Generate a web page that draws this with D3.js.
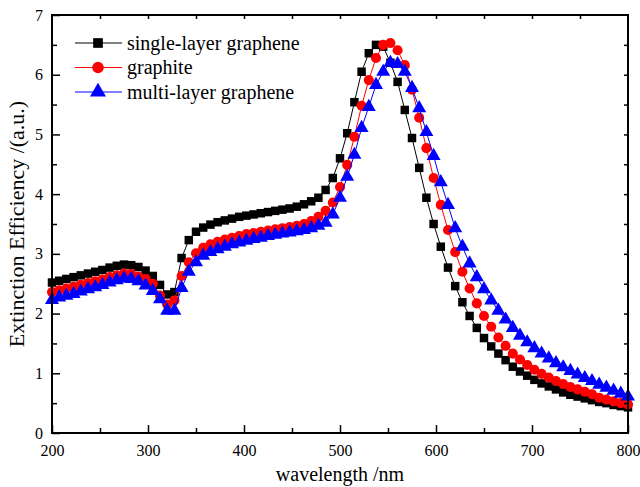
<!DOCTYPE html>
<html>
<head>
<meta charset="utf-8">
<script src="https://cdn.jsdelivr.net/npm/d3@7"></script>
<style>
	body { margin: 0; background: #fff; }
	svg { display: block; font-family: "Liberation Serif", "DejaVu Serif", serif; }
</style>
</head>
<body>
<div id="chart"></div>
<script>
'use strict';

//wavelength grid (nm), one point every 7.5 nm
var wavelengths = d3.range(81).map(function(i) { return 200 + i * 7.5; });

//single-layer graphene
var singleLayer = [
	2.52, 2.55, 2.58, 2.61, 2.64, 2.67, 2.70, 2.73, 2.77, 2.80,
	2.82, 2.81, 2.78, 2.72, 2.63, 2.48, 2.32, 2.36, 2.93, 3.23,
	3.37, 3.44, 3.49, 3.53, 3.56, 3.59, 3.62, 3.64, 3.66, 3.68,
	3.70, 3.72, 3.74, 3.76, 3.79, 3.83, 3.88, 3.94, 4.07, 4.27,
	4.60, 5.02, 5.54, 6.05, 6.36, 6.50, 6.47, 6.20, 5.88, 5.41,
	4.94, 4.44, 3.94, 3.50, 3.12, 2.77, 2.46, 2.19, 1.96, 1.76,
	1.59, 1.45, 1.33, 1.22, 1.11, 1.03, 0.96, 0.89, 0.83, 0.78,
	0.73, 0.68, 0.64, 0.61, 0.58, 0.55, 0.52, 0.50, 0.47, 0.45,
	0.43
];

//graphite
var graphite = [
	2.36, 2.39, 2.42, 2.45, 2.48, 2.51, 2.54, 2.57, 2.61, 2.64,
	2.67, 2.66, 2.62, 2.58, 2.50, 2.30, 2.15, 2.22, 2.63, 2.86,
	3.01, 3.10, 3.16, 3.20, 3.24, 3.27, 3.30, 3.33, 3.35, 3.37,
	3.39, 3.41, 3.43, 3.45, 3.47, 3.50, 3.55, 3.62, 3.72, 3.86,
	4.12, 4.49, 4.96, 5.48, 5.91, 6.28, 6.50, 6.53, 6.41, 6.16,
	5.75, 5.28, 4.77, 4.27, 3.82, 3.40, 3.03, 2.70, 2.42, 2.17,
	1.96, 1.78, 1.60, 1.46, 1.33, 1.23, 1.14, 1.06, 0.99, 0.93,
	0.87, 0.82, 0.77, 0.73, 0.69, 0.65, 0.59, 0.56, 0.53, 0.50,
	0.48
];

//multi-layer graphene
var multiLayer = [
	2.23, 2.27, 2.30, 2.33, 2.37, 2.41, 2.44, 2.48, 2.52, 2.56,
	2.59, 2.58, 2.54, 2.47, 2.38, 2.24, 2.05, 2.05, 2.43, 2.70,
	2.86, 2.97, 3.03, 3.08, 3.12, 3.16, 3.19, 3.22, 3.25, 3.27,
	3.30, 3.32, 3.34, 3.36, 3.38, 3.40, 3.43, 3.47, 3.52, 3.66,
	3.94, 4.29, 4.66, 5.11, 5.46, 5.83, 6.05, 6.20, 6.18, 6.05,
	5.78, 5.44, 5.04, 4.64, 4.20, 3.82, 3.43, 3.12, 2.84, 2.61,
	2.41, 2.22, 2.05, 1.90, 1.76, 1.63, 1.52, 1.42, 1.33, 1.25,
	1.17, 1.10, 1.04, 0.98, 0.92, 0.87, 0.81, 0.76, 0.71, 0.66,
	0.61
];

var seriesNames = ['single-layer graphene', 'graphite', 'multi-layer graphene'];
var seriesColors = ['#000000', '#ff0000', '#0000ff'];
var seriesShapes = [d3.symbolSquare, d3.symbolCircle, d3.symbolTriangle];
var seriesSizes = [72, 80, 85];

var xTicks = [200, 300, 400, 500, 600, 700, 800];
var yTicks = [0, 1, 2, 3, 4, 5, 6, 7];

(function() {
	var width = 640, height = 487;
	var margin = {top: 15, right: 12, bottom: 54, left: 52};
	var iw = width - margin.left - margin.right;
	var ih = height - margin.top - margin.bottom;

	var svg = d3.select('#chart').append('svg')
		.attr('width', width)
		.attr('height', height);

	var x = d3.scaleLinear().domain([200, 800]).range([0, iw]);
	var y = d3.scaleLinear().domain([0, 7]).range([ih, 0]);

	var g = svg.append('g')
		.attr('transform', 'translate(' + margin.left + ',' + margin.top + ')');

	/***************************************
	 * DATA
	 ***************************************/
	var allSeries = [singleLayer, graphite, multiLayer];
	var line = d3.line()
		.x(function(d, i) { return x(wavelengths[i]); })
		.y(function(d) { return y(d); });

	allSeries.forEach(function(values, s) {
		var sg = g.append('g').classed('series', true);
		sg.append('path')
			.attr('d', line(values))
			.attr('fill', 'none')
			.attr('stroke', seriesColors[s])
			.attr('stroke-width', 1);
		var sym = d3.symbol().type(seriesShapes[s]).size(seriesSizes[s]);
		sg.selectAll('path.marker')
			.data(values)
			.enter().append('path')
				.classed('marker', true)
				.attr('d', sym)
				.attr('fill', seriesColors[s])
				.attr('transform', function(d, i) {
					return 'translate(' + x(wavelengths[i]) + ',' + y(d) + ')';
				});
	});

	/***************************************
	 * AXES
	 ***************************************/
	//bottom: major ticks inward with labels, minor ticks inward
	g.append('g')
		.attr('transform', 'translate(0,' + ih + ')')
		.call(d3.axisBottom(x).tickValues(xTicks).tickSize(-8).tickPadding(12)
			.tickFormat(d3.format('d')));
	g.append('g')
		.attr('transform', 'translate(0,' + ih + ')')
		.call(d3.axisBottom(x).tickValues(d3.range(250, 800, 100)).tickSize(-5).tickFormat(''));
	//left
	g.append('g')
		.call(d3.axisLeft(y).tickValues(yTicks).tickSize(-8).tickPadding(9)
			.tickFormat(d3.format('d')));
	g.append('g')
		.call(d3.axisLeft(y).tickValues(d3.range(0.5, 7, 1)).tickSize(-5).tickFormat(''));
	//top and right: small inward ticks, no labels
	g.append('g')
		.call(d3.axisTop(x).tickValues(d3.range(250, 800, 50)).tickSize(-4).tickFormat(''));
	g.append('g')
		.attr('transform', 'translate(' + iw + ',0)')
		.call(d3.axisRight(y).tickValues(d3.range(0.5, 7, 0.5)).tickSize(-4).tickFormat(''));

	g.selectAll('.domain').remove();
	g.selectAll('.tick line').attr('stroke', '#000').attr('stroke-width', 1.5);
	g.selectAll('.tick text')
		.attr('fill', '#000')
		.style('font-size', '16px')
		.style('font-family', '"Liberation Serif", serif');

	//frame
	g.append('rect')
		.attr('width', iw)
		.attr('height', ih)
		.attr('fill', 'none')
		.attr('stroke', '#000')
		.attr('stroke-width', 2);

	//axis titles
	svg.append('text')
		.attr('x', margin.left + iw / 2)
		.attr('y', 481)
		.attr('text-anchor', 'middle')
		.style('font-size', '20px')
		.text('wavelength /nm');
	svg.append('text')
		.attr('transform', 'translate(24,' + (margin.top + ih / 2) + ') rotate(-90)')
		.attr('text-anchor', 'middle')
		.style('font-size', '22px')
		.text('Extinction Efficiency /(a.u.)');

	/***************************************
	 * LEGEND
	 ***************************************/
	var legend = svg.append('g').attr('transform', 'translate(75,43)');
	seriesNames.forEach(function(name, s) {
		var row = legend.append('g').attr('transform', 'translate(0,' + (s * 24.5) + ')');
		row.append('line')
			.attr('x1', 0).attr('x2', 47)
			.attr('stroke', seriesColors[s])
			.attr('stroke-width', 1);
		row.append('path')
			.attr('d', d3.symbol().type(seriesShapes[s]).size(seriesSizes[s] * 1.3))
			.attr('fill', seriesColors[s])
			.attr('transform', 'translate(23,0)');
		row.append('text')
			.attr('x', 52)
			.attr('dy', '0.33em')
			.style('font-size', '20px')
			.text(name);
	});
})();
</script>
</body>
</html>
